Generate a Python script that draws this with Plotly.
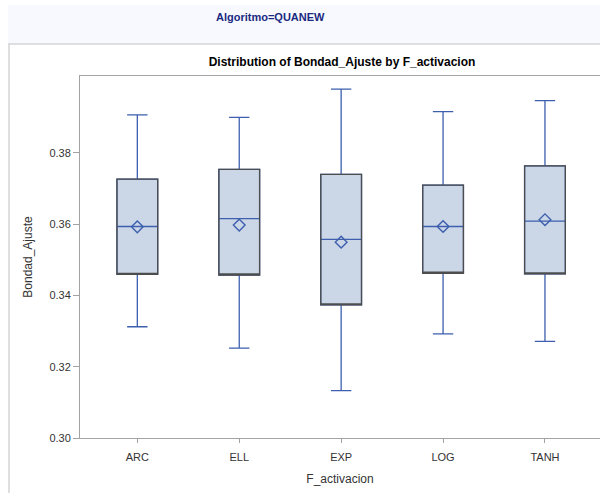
import plotly.graph_objects as go

# Summary statistics of Bondad_Ajuste per activation function (QUANEW algorithm)
categories = ["ARC", "ELL", "EXP", "LOG", "TANH"]
lower_whisker = [0.3312, 0.3252, 0.3133, 0.3292, 0.3271]
q1 = [0.3459, 0.3457, 0.3373, 0.3462, 0.3460]
median = [0.3593, 0.3615, 0.3557, 0.3593, 0.3608]
q3 = [0.3726, 0.3753, 0.3739, 0.3709, 0.3763]
upper_whisker = [0.3906, 0.3899, 0.3978, 0.3915, 0.3946]
mean = [0.3592, 0.3597, 0.3549, 0.3593, 0.3612]

y_ticks = [0.30, 0.32, 0.34, 0.36, 0.38]

W, H = 600, 493
ML, MR, MT, MB = 80, 0, 76, 55
PW, PH = W - ML - MR, H - MT - MB


def px_x(px):
    return (px - ML) / PW


def px_y(py):
    return (H - MB - py) / PH


BOX_FILL = "#cbd6e6"
BLUE = "#3d5fae"
OUTLINE = "#4d4d4d"
AXIS = "#a3a3a3"
FONT = "Liberation Sans, Arial, sans-serif"

fig = go.Figure()

# Whiskers, caps and median lines
fig.add_trace(go.Box(
    x=categories, q1=q1, median=median, q3=q3,
    lowerfence=lower_whisker, upperfence=upper_whisker,
    fillcolor=BOX_FILL, line=dict(color=BLUE, width=1.3),
    width=0.40, whiskerwidth=0.5, boxpoints=False,
    showlegend=False, hoverinfo="skip",
))

# Dark outline of the interquartile box
fig.add_trace(go.Box(
    x=categories, q1=q1, median=q1, q3=q3,
    lowerfence=q1, upperfence=q3,
    fillcolor="rgba(0,0,0,0)", line=dict(color=OUTLINE, width=1.3),
    width=0.40, whiskerwidth=0, boxpoints=False,
    showlegend=False, hoverinfo="skip",
))

# Means
fig.add_trace(go.Scatter(
    x=categories, y=mean, mode="markers",
    marker=dict(symbol="diamond-open", size=9, color=BLUE,
                line=dict(color=BLUE, width=1.4)),
    showlegend=False, hoverinfo="skip",
))

fig.update_layout(
    width=W, height=H,
    margin=dict(l=ML, r=MR, t=MT, b=MB, pad=0),
    paper_bgcolor="white", plot_bgcolor="white",
    boxmode="overlay",
    font=dict(family=FONT, size=11, color="#333333"),
    title=dict(
        text="<b>Distribution of Bondad_Ajuste by F_activacion</b>",
        x=342 / W, xanchor="center", y=1 - 62 / H, yanchor="middle",
        font=dict(family=FONT, size=12, color="#000000"),
    ),
    xaxis=dict(
        type="category", range=[-0.5625, 4.54],
        showline=True, linecolor=AXIS, linewidth=1, mirror=True,
        ticks="outside", ticklen=4, tickcolor=AXIS,
        ticklabelstandoff=5,
        showgrid=False, zeroline=False,
        tickfont=dict(size=11, color="#333333"),
        title=dict(text="F_activacion", standoff=12,
                   font=dict(size=12, color="#333333")),
    ),
    yaxis=dict(
        range=[0.30, 0.4015],
        tickvals=y_ticks, tickformat=".2f",
        showline=True, linecolor=AXIS, linewidth=1,
        ticks="outside", ticklen=6, tickcolor=AXIS,
        showgrid=False, zeroline=False,
        tickfont=dict(size=11, color="#333333"),
        title=dict(text="Bondad_Ajuste", standoff=14,
                   font=dict(size=12, color="#333333")),
    ),
    shapes=[
        # header band
        dict(type="rect", xref="paper", yref="paper",
             x0=px_x(8), x1=px_x(W + 2), y0=px_y(44), y1=px_y(5),
             fillcolor="#f8f9fe", line=dict(width=0), layer="below"),
        # panel frame
        dict(type="line", xref="paper", yref="paper",
             x0=px_x(8), x1=px_x(W + 2), y0=px_y(44), y1=px_y(44),
             line=dict(color="#d4d4d4", width=1.5)),
        dict(type="line", xref="paper", yref="paper",
             x0=px_x(9), x1=px_x(9), y0=px_y(44), y1=px_y(H + 2),
             line=dict(color="#d4d4d4", width=1.5)),
    ],
    annotations=[
        dict(text="<b>Algoritmo=QUANEW</b>", xref="paper", yref="paper",
             x=px_x(270), y=px_y(17), xanchor="center", yanchor="middle",
             showarrow=False, font=dict(family=FONT, size=11, color="#1a2a80")),
    ],
)

fig.write_html("out.html")
